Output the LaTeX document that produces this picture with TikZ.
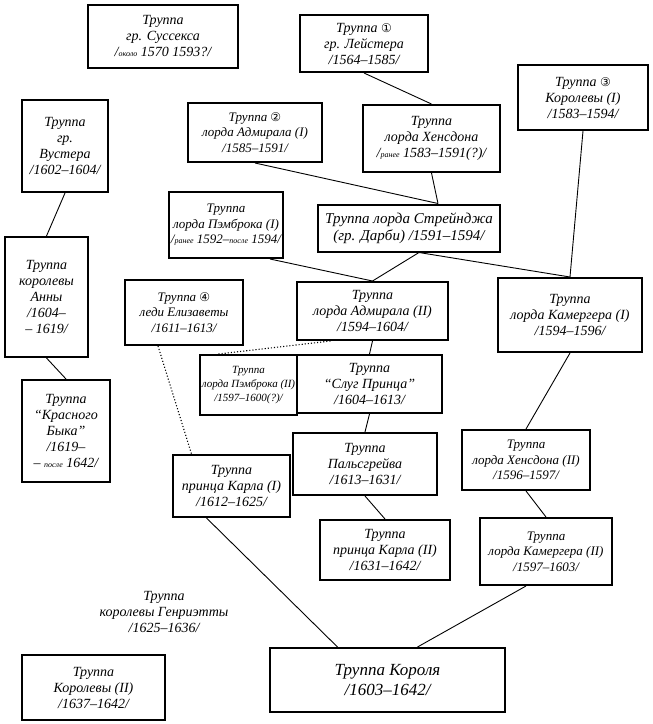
\documentclass[tikz,border=0pt]{standalone}
\usepackage{fontspec}
\setmainfont{Liberation Serif}
\newfontfamily\symfont{DejaVu Sans}
\newcommand\cnum[1]{{\upshape\symfont\fontsize{12}{12}\selectfont #1}}
\newcommand\sm[1]{{\fontsize{8}{10}\selectfont #1}}
\tikzset{
  troupe/.style={draw, line width=2pt, align=center, inner sep=2pt,
    font=\itshape\fontsize{14}{16}\selectfont},
  link/.style={line width=0.9pt},
  maybe/.style={line width=1.1pt, dotted}
}
\begin{document}
\begin{tikzpicture}[x=1pt,y=-1pt]
\useasboundingbox (0,0) rectangle (653,724);
% top row
\node[troupe, minimum width=150, minimum height=63] (sussex) at (163,36.5) {Труппа\\гр. Суссекса\\/\sm{около} 1570 1593?/};
\node[troupe, minimum width=128, minimum height=57] (leicester) at (364,43.5) {Труппа \cnum{①}\\гр. Лейстера\\/1564–1585/};
\node[troupe, minimum width=130, minimum height=65] (queen1) at (583,97.5) {Труппа \cnum{③}\\Королевы (I)\\/1583–1594/};
\node[troupe, minimum width=86, minimum height=92] (worcester) at (65,146) {Труппа\\гр.\\Вустера\\/1602–1604/};
\node[troupe, minimum width=134, minimum height=59, font=\itshape\fontsize{13}{15.5}\selectfont] (admiral1) at (255,132.5) {Труппа \cnum{②}\\лорда Адмирала (I)\\/1585–1591/};
\node[troupe, minimum width=137, minimum height=67] (hunsdon1) at (431.5,138.5) {Труппа\\лорда Хенсдона\\/\sm{ранее} 1583–1591(?)/};
% middle
\node[troupe, minimum width=108, minimum height=66, font=\itshape\fontsize{13}{15.5}\selectfont] (pembroke1) at (226,225) {Труппа\\лорда Пэмброка (I)\\/\sm{ранее} 1592–\sm{после} 1594/};
\node[troupe, minimum width=182, minimum height=47, font=\itshape\fontsize{15}{17}\selectfont] (strange) at (409,228) {Труппа лорда Стрейнджа\\(гр. Дарби) /1591–1594/};
\node[troupe, minimum width=83, minimum height=120] (anne) at (46.5,297) {Труппа\\королевы\\Анны\\/1604–\\– 1619/};
\node[troupe, minimum width=118, minimum height=65, font=\itshape\fontsize{13}{15.5}\selectfont] (elizabeth) at (184,312.5) {Труппа \cnum{④}\\леди Елизаветы\\/1611–1613/};
\node[troupe, minimum width=151, minimum height=58] (admiral2) at (372.5,311) {Труппа\\лорда Адмирала (II)\\/1594–1604/};
\node[troupe, minimum width=144, minimum height=74] (chamber1) at (570,315) {Труппа\\лорда Камергера (I)\\/1594–1596/};
\node[troupe, minimum width=88, minimum height=102] (redbull) at (66,431) {Труппа\\“Красного\\Быка”\\/1619–\\– \sm{после} 1642/};
\node[troupe, minimum width=87, minimum height=60, font=\itshape\fontsize{11}{14}\selectfont] (pembroke2) at (248.5,385) {Труппа\\лорда Пэмброка (II)\\/1597–1600(?)/};
\node[troupe, minimum width=145, minimum height=58] (servants) at (369.5,384) {Труппа\\“Слуг Принца”\\/1604–1613/};
% lower
\node[troupe, minimum width=144, minimum height=62] (palsgrave) at (365,464) {Труппа\\Пальсгрейва\\/1613–1631/};
\node[troupe, minimum width=128, minimum height=60, font=\itshape\fontsize{13}{15.5}\selectfont] (hunsdon2) at (526,460) {Труппа\\лорда Хенсдона (II)\\/1596–1597/};
\node[troupe, minimum width=117, minimum height=62] (charles1) at (231.5,486) {Труппа\\принца Карла (I)\\/1612–1625/};
\node[troupe, minimum width=130, minimum height=60] (charles2) at (385,550) {Труппа\\принца Карла (II)\\/1631–1642/};
\node[troupe, minimum width=132, minimum height=67, font=\itshape\fontsize{13}{15.5}\selectfont] (chamber2) at (546,551.5) {Труппа\\лорда Камергера (II)\\/1597–1603/};
\node[troupe, draw=none] (henrietta) at (164,612) {Труппа\\королевы Генриэтты\\/1625–1636/};
\node[troupe, minimum width=143, minimum height=65] (queen2) at (93.5,687.5) {Труппа\\Королевы (II)\\/1637–1642/};
\node[troupe, minimum width=235, minimum height=64, font=\itshape\fontsize{17}{20}\selectfont] (king) at (387.5,680) {Труппа Короля\\/1603–1642/};
% lines
\draw[link] (leicester.south) -- (hunsdon1.north);
\draw[link] (admiral1.south) -- ([xshift=29pt]strange.north);
\draw[link] (hunsdon1.south) -- ([xshift=29pt]strange.north);
\draw[link] (queen1.south) -- (chamber1.north);
\draw[link] ([xshift=10pt]strange.south) -- (admiral2.north);
\draw[link] ([xshift=10pt]strange.south) -- (chamber1.north);
\draw[link] ([xshift=44pt]pembroke1.south) -- (admiral2.north);
\draw[link] (worcester.south) -- (anne.north);
\draw[link] (anne.south) -- (redbull.north);
\draw[link] (admiral2.south) -- (servants.north);
\draw[link] (servants.south) -- (palsgrave.north);
\draw[link] (palsgrave.south) -- (charles2.north);
\draw[link] (chamber1.south) -- (hunsdon2.north);
\draw[link] (hunsdon2.south) -- (chamber2.north);
\draw[link] ([xshift=-20pt]chamber2.south) -- ([xshift=30pt]king.north);
\draw[link] ([xshift=-25pt]charles1.south) -- ([xshift=-50pt]king.north);
\draw[maybe] ([xshift=-30pt]pembroke2.north) -- ([xshift=-42pt]admiral2.south);
\draw[maybe] ([xshift=-26pt]elizabeth.south) -- ([xshift=-40pt]charles1.north);
\end{tikzpicture}
\end{document}
